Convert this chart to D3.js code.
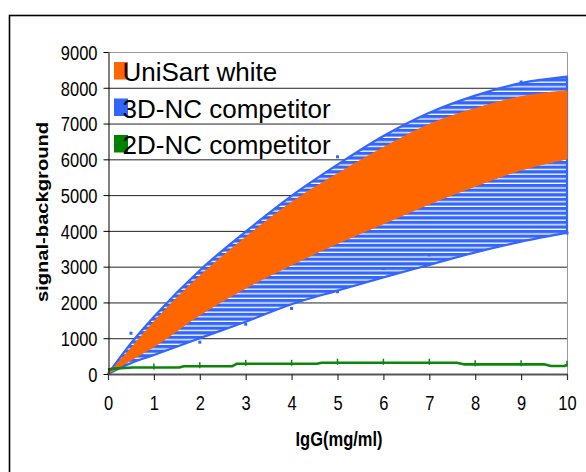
<!DOCTYPE html>
<html>
<head>
<meta charset="utf-8">
<script src="https://cdn.jsdelivr.net/npm/d3@7"></script>
<style>
  html, body { margin: 0; padding: 0; background: #fff; }
  svg { display: block; }
</style>
</head>
<body>
<div id="chart"></div>
<script>
// values
var xs = [0, 0.5, 1, 2, 3, 4, 5, 6, 7, 8, 9, 10];
var blueHigh = [0, 860, 1600, 2900, 3980, 4980, 5850, 6650, 7300, 7780, 8130, 8310];
var blueLow = [0, 300, 530, 1000, 1460, 1950, 2330, 2700, 3050, 3400, 3700, 3950];
var orangeHigh = [0, 720, 1460, 2740, 3820, 4800, 5600, 6330, 6980, 7420, 7750, 7920];
var orangeLow = [0, 390, 760, 1650, 2400, 3050, 3650, 4200, 4750, 5250, 5700, 6010];

var greenX = [0, 0.1, 0.55, 1.55, 1.65, 2.7, 2.8, 4.55, 4.65, 7.6, 7.75, 9.5, 9.65, 9.95, 10];
var greenY = [120, 150, 180, 180, 215, 215, 285, 285, 315, 315, 270, 270, 225, 225, 260];
var greenBarX = [1, 2, 3, 4, 5, 6, 7, 8, 9, 10];
var greenBarY = [180, 215, 285, 285, 315, 315, 315, 270, 270, 260];

var dotX = [0.5, 2, 3, 4, 5, 5, 6, 7, 9, 10];
var dotY = [1140, 890, 1390, 1830, 2300, 6070, 2950, 3330, 8160, 3940];

var legendNames = ["UniSart white", "3D-NC competitor", "2D-NC competitor"];
var legendColors = ["#ff6600", "#3366ff", "#008000"];
var yTicks = [0, 1000, 2000, 3000, 4000, 5000, 6000, 7000, 8000, 9000];
var xTicks = [0, 1, 2, 3, 4, 5, 6, 7, 8, 9, 10];

var W = 586, H = 472;
var pLeft = 108, pRight = 567, pTop = 52, pBottom = 374;
var stretch = 1.26;   // text in the picture is a bit tall
var font = "'Liberation Sans', Arial, sans-serif";

var x = d3.scaleLinear().domain([0, 10]).range([pLeft, pRight]);
var y = d3.scaleLinear().domain([0, 9000]).range([pBottom, pTop]);

var svg = d3.select("#chart").append("svg")
  .attr("width", W)
  .attr("height", H);

// hatch for the blue band
var pat = svg.append("defs").append("pattern")
  .attr("id", "hatch")
  .attr("patternUnits", "userSpaceOnUse")
  .attr("width", 20)
  .attr("height", 4.6);
pat.append("rect").attr("width", 20).attr("height", 4.6).attr("fill", "#fff");
pat.append("rect").attr("width", 20).attr("height", 3.3).attr("fill", "#3366ff");

// outer frame (runs off the picture right and bottom)
svg.append("rect")
  .attr("x", 9.5).attr("y", 15.5)
  .attr("width", 700).attr("height", 600)
  .attr("fill", "none")
  .attr("stroke", "#000")
  .attr("stroke-width", 1.6);

// grid lines
svg.append("g")
  .selectAll("line")
  .data(yTicks.filter(d => d > 0 && d < 9000))
  .join("line")
  .attr("x1", pLeft).attr("x2", pRight)
  .attr("y1", d => y(d) + 0.5).attr("y2", d => y(d) + 0.5)
  .attr("stroke", "#222")
  .attr("stroke-width", 1);

// top and right frame of plot area
svg.append("path")
  .attr("d", "M" + pLeft + "," + (pTop + 0.5) + "H" + (pRight + 0.5) + "V" + pBottom)
  .attr("fill", "none")
  .attr("stroke", "#999")
  .attr("stroke-width", 1);

var idx = d3.range(xs.length);

var blueArea = d3.area()
  .x(i => x(xs[i]))
  .y0(i => y(blueLow[i]))
  .y1(i => y(blueHigh[i]))
  .curve(d3.curveMonotoneX);

var orangeArea = d3.area()
  .x(i => x(xs[i]))
  .y0(i => y(orangeLow[i]))
  .y1(i => y(orangeHigh[i]))
  .curve(d3.curveMonotoneX);

svg.append("path")
  .attr("d", blueArea(idx))
  .attr("fill", "url(#hatch)")
  .attr("stroke", "#3366ff")
  .attr("stroke-width", 2.2)
  .attr("stroke-linejoin", "round");

svg.append("path")
  .attr("d", orangeArea(idx))
  .attr("fill", "#ff6600")
  .attr("stroke", "#ff6600")
  .attr("stroke-width", 1);

// blue markers
svg.append("g")
  .selectAll("rect")
  .data(d3.range(dotX.length))
  .join("rect")
  .attr("x", i => x(dotX[i]) - 1.5)
  .attr("y", i => y(dotY[i]) - 1.5)
  .attr("width", 3).attr("height", 3)
  .attr("fill", "#3366ff");

// green line
var greenLine = d3.line()
  .x(i => x(greenX[i]))
  .y(i => y(greenY[i]));

svg.append("path")
  .attr("d", greenLine(d3.range(greenX.length)))
  .attr("fill", "none")
  .attr("stroke", "#0b860b")
  .attr("stroke-width", 2.6)
  .attr("stroke-linejoin", "round");

svg.append("g")
  .selectAll("line")
  .data(d3.range(greenBarX.length))
  .join("line")
  .attr("x1", i => x(greenBarX[i])).attr("x2", i => x(greenBarX[i]))
  .attr("y1", i => y(greenBarY[i]) - 4).attr("y2", i => y(greenBarY[i]) + 2)
  .attr("stroke", "#0b860b")
  .attr("stroke-width", 1.5);

// axes
var yAxis = svg.append("g")
  .attr("transform", "translate(" + (pLeft + 0.5) + ",0)")
  .call(d3.axisLeft(y).tickValues(yTicks).tickFormat(d3.format("d"))
    .tickSize(5).tickSizeOuter(0).tickPadding(6));
yAxis.select(".domain").attr("stroke", "#000").attr("stroke-width", 1);
yAxis.selectAll(".tick line").attr("stroke", "#000");
yAxis.selectAll(".tick text")
  .attr("font-family", font)
  .attr("font-size", 16.5)
  .attr("fill", "#000")
  .attr("dy", "0.35em")
  .attr("transform", "scale(1," + stretch + ")");

var xAxis = svg.append("g")
  .attr("transform", "translate(0," + pBottom + ")")
  .call(d3.axisBottom(x).tickValues(xTicks).tickFormat(d3.format("d"))
    .tickSize(6).tickSizeOuter(0));
xAxis.select(".domain").attr("stroke", "#555").attr("stroke-width", 2);
xAxis.selectAll(".tick line").attr("stroke", "#333").attr("stroke-width", 1.2);
xAxis.selectAll(".tick text")
  .attr("font-family", font)
  .attr("font-size", 16.5)
  .attr("fill", "#000")
  .attr("y", 0)
  .attr("dy", 0)
  .attr("transform", "translate(0,36) scale(1," + stretch + ")");

// axis titles
svg.append("text")
  .attr("transform", "translate(48,212) rotate(-90) scale(" + stretch + ",1)")
  .attr("text-anchor", "middle")
  .attr("font-family", font)
  .attr("font-weight", "bold")
  .attr("font-size", 16)
  .text("signal-background");

svg.append("text")
  .attr("transform", "translate(339,446) scale(1," + stretch + ")")
  .attr("text-anchor", "middle")
  .attr("font-family", font)
  .attr("font-weight", "bold")
  .attr("font-size", 16.5)
  .text("IgG(mg/ml)");

// legend
var legend = svg.append("g");
legendNames.forEach(function(name, i) {
  var by = 81 + i * 36.5;
  legend.append("rect")
    .attr("x", 114).attr("y", by - 19)
    .attr("width", 14).attr("height", 17.5)
    .attr("fill", legendColors[i]);
  legend.append("text")
    .attr("x", 122.5).attr("y", by)
    .attr("font-family", font)
    .attr("font-size", 26)
    .attr("fill", "#000")
    .text(name);
});
</script>
</body>
</html>
